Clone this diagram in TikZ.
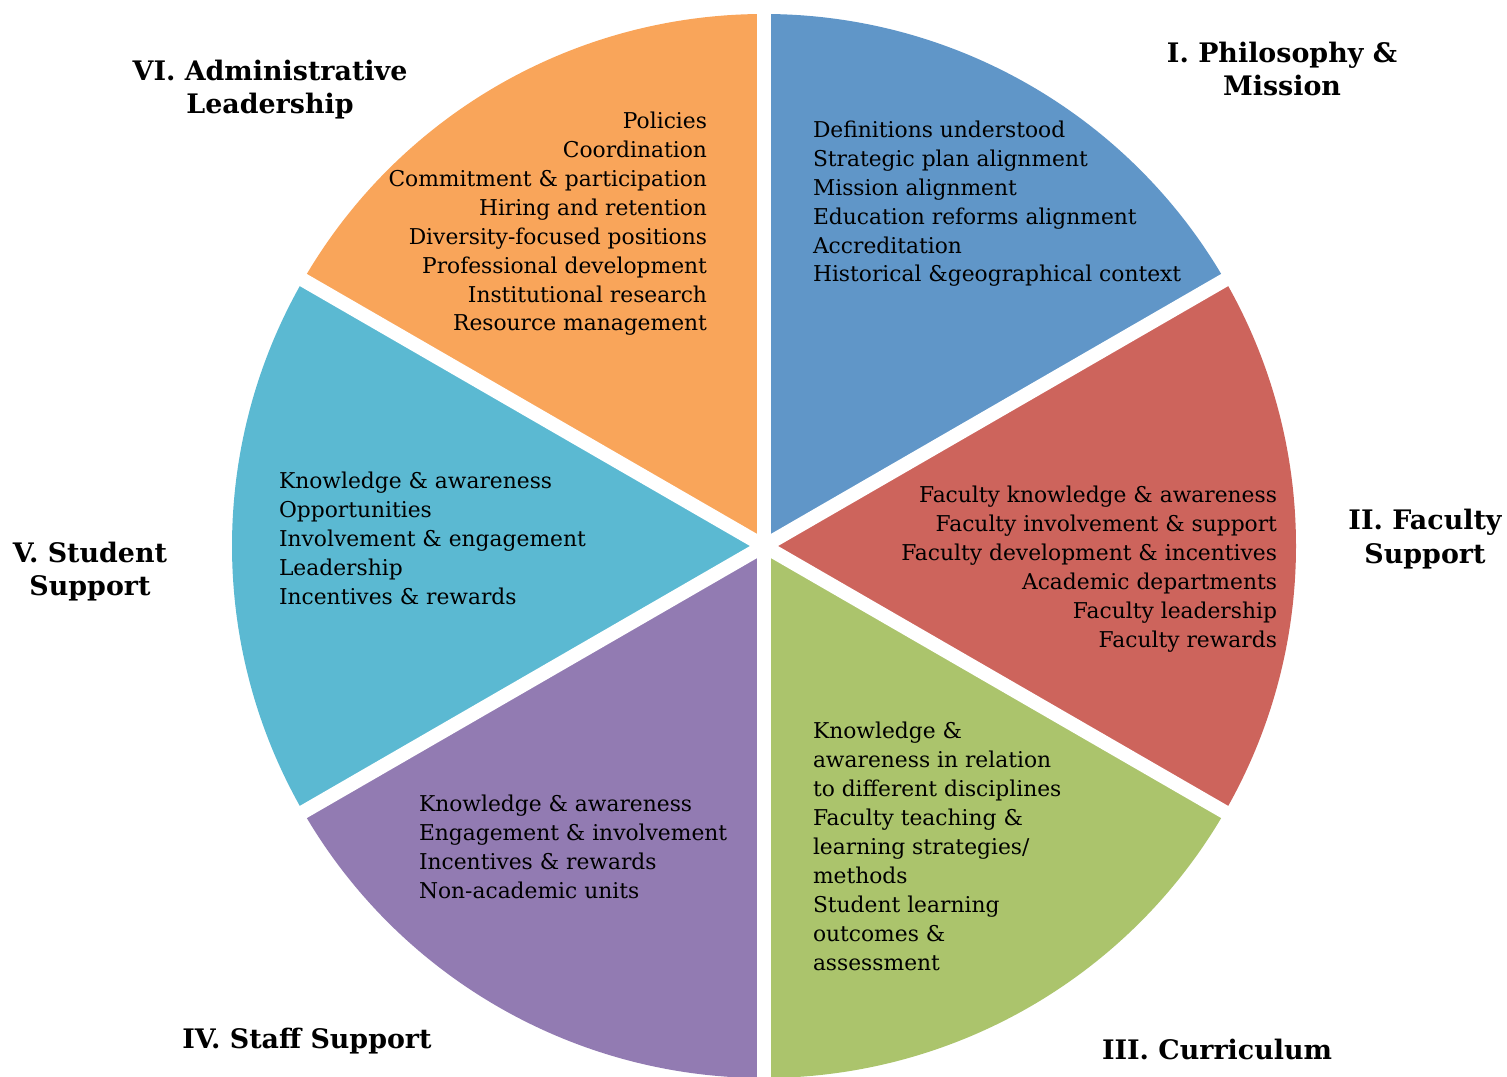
\documentclass[tikz,border=0pt]{standalone}
\usepackage{fontspec}
\setmainfont{DejaVu Serif}

\definecolor{philblue}{RGB}{96,150,200}
\definecolor{facred}{RGB}{205,100,92}
\definecolor{curgreen}{RGB}{171,196,108}
\definecolor{staffpurple}{RGB}{146,123,178}
\definecolor{studcyan}{RGB}{91,185,210}
\definecolor{admorange}{RGB}{249,165,90}

\begin{document}
\begin{tikzpicture}[
        x = 0.02cm, % one unit = one pixel of the page
        y = 0.02cm,
        inner sep = 0pt, % text sits right on its anchor
        outer sep = 0pt
      ]

      % base anchor = baseline of the last line
      \tikzstyle{items}=[align=left, anchor=base west, font=\fontsize{12.4}{16.44}\selectfont]
      \tikzstyle{itemsr}=[align=right, anchor=base east, font=\fontsize{12.4}{16.44}\selectfont]
      \tikzstyle{title}=[align=center, anchor=base, font=\bfseries\fontsize{15.3}{19.3}\selectfont]
      \tikzstyle{gap}=[white, line width=0.28cm]

      \useasboundingbox (0,0) rectangle (1507,1076);
      \clip (0,0) rectangle (1507,1076);

      \coordinate (c) at (764,530);

      % the six slices
      \fill[philblue] (c) -- ++(30:532) arc[start angle=30, end angle=90, radius=532] -- cycle;
      \fill[facred] (c) -- ++(-30:532) arc[start angle=-30, end angle=30, radius=532] -- cycle;
      \fill[curgreen] (c) -- ++(-90:532) arc[start angle=-90, end angle=-30, radius=532] -- cycle;
      \fill[staffpurple] (c) -- ++(210:532) arc[start angle=210, end angle=270, radius=532] -- cycle;
      \fill[studcyan] (c) -- ++(150:532) arc[start angle=150, end angle=210, radius=532] -- cycle;
      \fill[admorange] (c) -- ++(90:532) arc[start angle=90, end angle=150, radius=532] -- cycle;

      % white gaps between slices
      \draw[gap] (c) -- ++(90:560);
      \draw[gap] (c) -- ++(30:560);
      \draw[gap] (c) -- ++(-30:560);
      \draw[gap] (c) -- ++(-90:560);
      \draw[gap] (c) -- ++(210:560);
      \draw[gap] (c) -- ++(150:560);

      \node[items] (phil) at (813,794) {Definitions understood\\Strategic plan alignment\\Mission alignment\\Education reforms alignment\\Accreditation\\Historical \&geographical context};
      \node[itemsr] (fac) at (1277,429) {Faculty knowledge \& awareness\\Faculty involvement \& support\\Faculty development \& incentives\\Academic departments\\Faculty leadership\\Faculty rewards};
      \node[items] (cur) at (813,106) {Knowledge \&\\awareness in relation\\to different disciplines\\Faculty teaching \&\\learning strategies/\\methods\\Student learning\\outcomes \&\\assessment};
      \node[items] (staff) at (419,178) {Knowledge \& awareness\\Engagement \& involvement\\Incentives \& rewards\\Non-academic units};
      \node[items] (stud) at (279,472) {Knowledge \& awareness\\Opportunities\\Involvement \& engagement\\Leadership\\Incentives \& rewards};
      \node[itemsr] (adm) at (707,745) {Policies\\Coordination\\Commitment \& participation\\Hiring and retention\\Diversity-focused positions\\Professional development\\Institutional research\\Resource management};

      \node[title] (philt) at (1282,980) {I. Philosophy \&\\Mission};
      \node[title] (fact) at (1425,513) {II. Faculty\\Support};
      \node[title] (curt) at (1217,17) {III. Curriculum};
      \node[title] (stafft) at (307,28) {IV. Staff Support};
      \node[title] (studt) at (90,480) {V. Student\\Support};
      \node[title] (admt) at (270,962) {VI. Administrative\\Leadership};

    \end{tikzpicture}
\end{document}
